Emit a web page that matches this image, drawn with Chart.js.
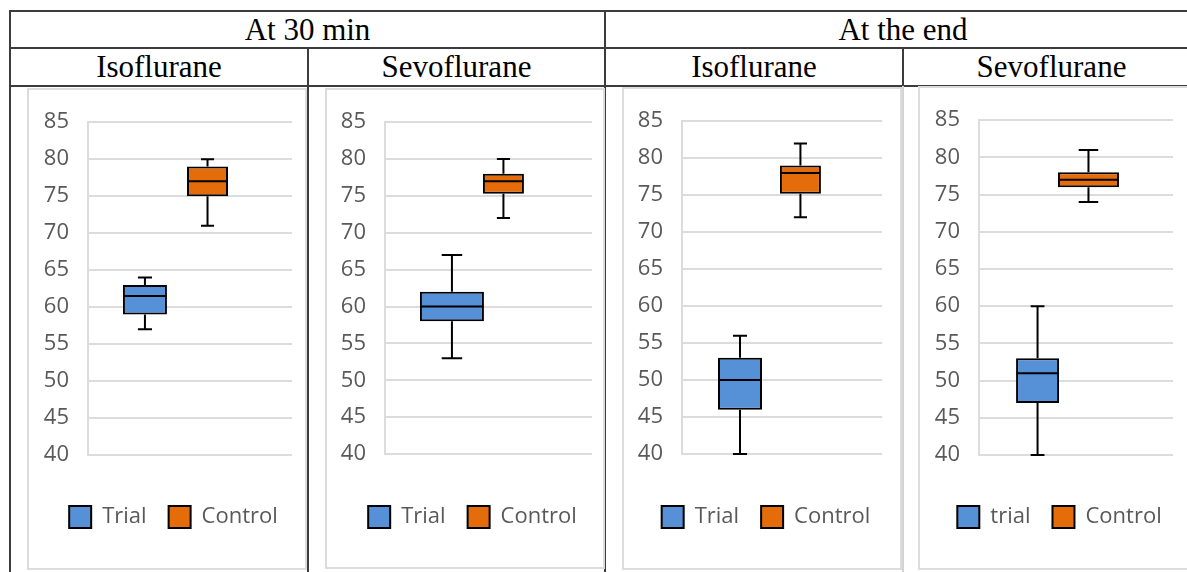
<!DOCTYPE html>
<html><head><meta charset="utf-8">
<script src="https://cdn.jsdelivr.net/npm/chart.js@4.4.1/dist/chart.umd.min.js"></script>
<style>
html,body{margin:0;padding:0;background:#fff;}
body{width:1187px;height:572px;overflow:hidden;position:relative;font-family:"Liberation Serif","Times New Roman",serif;}
.line{position:absolute;background:#3c3c3c;}
.lline{position:absolute;background:#d4d4d4;}
.hd{position:absolute;display:flex;align-items:center;justify-content:center;font-size:31px;color:#000;white-space:nowrap;}
.panel{position:absolute;box-sizing:border-box;border:2px solid #dcdcdc;background:#fff;}
.panel canvas{position:absolute;left:0;top:0;}
</style></head><body>
<div id="root"></div>
<script>
// ---- data ----
const groupTitles = ['At 30 min', 'At the end'];
const drugTitles = ['Isoflurane', 'Sevoflurane', 'Isoflurane', 'Sevoflurane'];
const categories = ['Trial', 'Control'];
const legendNames = [['Trial', 'Control'], ['Trial', 'Control'], ['Trial', 'Control'], ['trial', 'Control']];
const yTickMin = 40, yTickMax = 85, yTickStep = 5;

const trialMin    = [57, 53, 40, 40];
const trialQ1     = [59, 58, 46, 47];
const trialMedian = [61.5, 60, 50, 51];
const trialQ3     = [63, 62, 53, 53];
const trialMax    = [64, 67, 56, 60];

const controlMin    = [71, 72, 72, 74];
const controlQ1     = [75, 75.3, 75.2, 76];
const controlMedian = [77, 77, 78, 77];
const controlQ3     = [79, 78, 79, 78];
const controlMax    = [80, 80, 82, 81];

// ---- layout (pixels) ----
const panels = [
  {left: 27,  top: 88, width: 280, height: 482, plotL: 88,  plotR: 292,  plotT: 118, plotB: 455, xMin: -0.91, xMax: 2.35, boxW: [44, 41]},
  {left: 325, top: 88, width: 280, height: 481, plotL: 385, plotR: 592,  plotT: 117, plotB: 454, xMin: -1.30, xMax: 2.72, boxW: [64, 41]},
  {left: 622, top: 87, width: 280, height: 483, plotL: 682, plotR: 882,  plotT: 116, plotB: 454, xMin: -0.96, xMax: 2.35, boxW: [44, 41]},
  {left: 918, top: 86, width: 280, height: 484, plotL: 979, plotR: 1173, plotT: 116, plotB: 455, xMin: -1.15, xMax: 2.66, boxW: [43, 61]},
];
const legendCenterY = 517;
const legendBox = 22, legendPad = 22, legendShift = 13;
const fontPx = 22;
const colors = ['#5690D6', '#E46C0A'];

const root = document.getElementById('root');
function addDiv(cls, l, t, w, h, text) {
  const d = document.createElement('div');
  d.className = cls;
  Object.assign(d.style, {left: l + 'px', top: t + 'px', width: w + 'px', height: h + 'px'});
  if (text) d.textContent = text;
  root.appendChild(d);
  return d;
}
// table lines
addDiv('line', 9, 10, 1200, 2);
addDiv('line', 9, 47, 1200, 2);
addDiv('line', 9, 85, 1200, 2);
addDiv('line', 9, 10, 2, 570);
addDiv('line', 604, 10, 2, 570);
addDiv('line', 307, 47, 2, 530);
addDiv('line', 902, 47, 2, 39);
addDiv('lline', 902, 86, 2, 490);
// headers
addDiv('hd', 10, 12, 595, 35, groupTitles[0]);
addDiv('hd', 606, 12, 594, 35, groupTitles[1]);
const cellX = [[10, 308], [308, 605], [605, 903], [903, 1200]];
drugTitles.forEach((t, i) => addDiv('hd', cellX[i][0], 49, cellX[i][1] - cellX[i][0], 36, t));

Chart.defaults.font.family = '"Open Sans", "Noto Sans", sans-serif';

const boxPlugin = {
  id: 'boxWhiskers',
  afterLayout(chart) {
    const s = chart.options.plugins.boxWhiskers;
    if (chart.legend) { chart.legend.left += s.shift; chart.legend.right += s.shift; }
  },
  afterDatasetsDraw(chart) {
    const ctx = chart.ctx, ys = chart.scales.y;
    chart.data.datasets.forEach((ds, di) => {
      const meta = chart.getDatasetMeta(di);
      meta.data.forEach((bar, i) => {
        const st = ds.stats[i];
        if (!st) return;
        const {x, width} = bar.getProps(['x', 'width'], true);
        const half = width / 2, cap = width * 0.16;
        const py = v => ys.getPixelForValue(v);
        ctx.save();
        ctx.strokeStyle = '#000';
        ctx.lineWidth = 2;
        ctx.beginPath();
        ctx.moveTo(x - half + 1, py(st.median)); ctx.lineTo(x + half - 1, py(st.median));
        ctx.moveTo(x, py(st.q3)); ctx.lineTo(x, py(st.max));
        ctx.moveTo(x - cap, py(st.max)); ctx.lineTo(x + cap, py(st.max));
        ctx.moveTo(x, py(st.q1)); ctx.lineTo(x, py(st.min));
        ctx.moveTo(x - cap, py(st.min)); ctx.lineTo(x + cap, py(st.min));
        ctx.stroke();
        ctx.restore();
      });
    });
  }
};

panels.forEach((p, pi) => {
  const wrap = addDiv('panel', p.left, p.top, p.width, p.height);
  const cx = p.left + 2, cy = p.top + 2, cw = p.width - 4, ch = p.height - 4;
  const cv = document.createElement('canvas');
  cv.width = cw; cv.height = ch;
  cv.style.width = cw + 'px'; cv.style.height = ch + 'px';
  wrap.appendChild(cv);

  const yWidth = p.plotL - cx;
  const padTop = p.plotT - cy;
  const padRight = cw - (p.plotR - cx);
  const legendTop = legendCenterY - (legendPad + legendBox / 2) - cy;
  const legendH = legendBox + legendPad + 10;
  const padBottom = ch - (legendTop + legendH);
  const xHeight = legendTop - (p.plotB - cy);

  const stats = [
    {min: trialMin[pi], q1: trialQ1[pi], median: trialMedian[pi], q3: trialQ3[pi], max: trialMax[pi]},
    {min: controlMin[pi], q1: controlQ1[pi], median: controlMedian[pi], q3: controlQ3[pi], max: controlMax[pi]},
  ];
  const datasets = categories.map((c, ci) => ({
    label: legendNames[pi][ci],
    data: [{x: ci, y: [stats[ci].q1, stats[ci].q3]}],
    stats: [stats[ci]],
    backgroundColor: colors[ci],
    borderColor: '#000',
    borderWidth: 2,
    borderSkipped: false,
    grouped: false,
    categoryPercentage: 1,
    barPercentage: 1.6,
    maxBarThickness: p.boxW[ci],
  }));

  new Chart(cv, {
    type: 'bar',
    data: {datasets},
    plugins: [boxPlugin],
    options: {
      responsive: false,
      animation: false,
      events: [],
      layout: {padding: {left: 0, right: padRight, top: padTop, bottom: padBottom}},
      scales: {
        x: {
          type: 'linear',
          offset: false,
          min: p.xMin, max: p.xMax,
          grid: {display: false, offset: false},
          border: {display: false},
          ticks: {display: false},
          afterBuildTicks: s => { s.ticks = categories.map((c, i) => ({value: i})); },
          afterFit: s => { s.height = xHeight; }
        },
        y: {
          min: yTickMin, max: yTickMax,
          ticks: {stepSize: yTickStep, color: '#595959', font: {size: fontPx}, padding: 19},
          grid: {color: '#dcdcdc', lineWidth: 2, drawTicks: false},
          border: {display: true, color: '#dcdcdc', width: 2},
          afterFit: s => { s.width = yWidth; }
        }
      },
      plugins: {
        tooltip: {enabled: false},
        boxWhiskers: {shift: legendShift},
        legend: {
          position: 'bottom',
          labels: {boxWidth: legendBox, boxHeight: legendBox, padding: legendPad, color: '#595959', font: {size: fontPx}}
        }
      }
    }
  });
});
</script>
</body></html>
